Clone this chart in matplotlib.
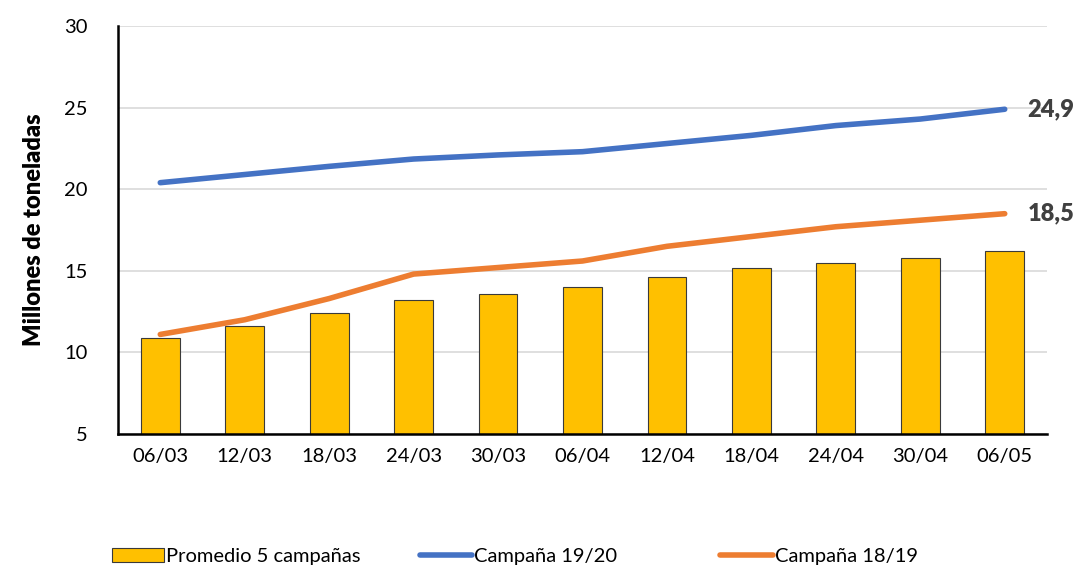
import matplotlib.pyplot as plt
import numpy as np

plt.rcParams['font.family'] = ['Lato', 'DejaVu Sans']

fechas = ["06/03", "12/03", "18/03", "24/03", "30/03", "06/04",
          "12/04", "18/04", "24/04", "30/04", "06/05"]
promedio = [10.9, 11.6, 12.4, 13.2, 13.6, 14.0, 14.6, 15.2, 15.5, 15.8, 16.2]
camp_1920 = [20.4, 20.9, 21.4, 21.85, 22.1, 22.3, 22.8, 23.3, 23.9, 24.3, 24.9]
camp_1819 = [11.1, 12.0, 13.3, 14.8, 15.2, 15.6, 16.5, 17.1, 17.7, 18.1, 18.5]

x = np.arange(len(fechas))

fig = plt.figure(figsize=(10.8, 5.72), dpi=100)
ax = fig.add_axes([0.1093, 0.2413, 0.8601, 0.7132])

bars = ax.bar(x, [p - 5 for p in promedio], bottom=5, width=0.46, color="#FFC000",
              edgecolor="#3a3a3a", linewidth=0.8, label="Promedio 5 campañas", zorder=2)
l1, = ax.plot(x, camp_1920, color="#4472C4", lw=4, solid_capstyle="round",
              label="Campaña 19/20", zorder=3)
l2, = ax.plot(x, camp_1819, color="#ED7D31", lw=4, solid_capstyle="round",
              label="Campaña 18/19", zorder=3)

ax.text(x[-1] + 0.27, camp_1920[-1], "24,9", fontsize=17, fontweight="heavy",
        color="#404040", va="center", ha="left")
ax.text(x[-1] + 0.27, camp_1819[-1], "18,5", fontsize=17, fontweight="heavy",
        color="#404040", va="center", ha="left")

ax.set_xlim(-0.5, 10.5)
ax.set_ylim(5, 30)
ax.set_yticks([5, 10, 15, 20, 25, 30])
ax.set_xticks(x)
ax.set_xticklabels(fechas)
ax.tick_params(length=0, labelsize=14.5, pad=10)
ax.tick_params(axis="y", pad=22)
ax.grid(axis="y", color="#d9d9d9", lw=1.2, zorder=0)
ax.set_axisbelow(True)
for s in ["top", "right"]:
    ax.spines[s].set_visible(False)
ax.spines["left"].set_linewidth(1.8)
ax.spines["bottom"].set_linewidth(1.8)
ax.set_ylabel("Millones de toneladas", fontsize=17, fontweight="heavy", labelpad=14)

for h, xpos in [(bars, 0.1037), (l1, 0.389), (l2, 0.667)]:
    fig.legend(handles=[h], loc="lower left", bbox_to_anchor=(xpos, 0.012),
               frameon=False, fontsize=14.5, handlelength=2.6,
               handletextpad=0.1, borderpad=0, borderaxespad=0)

fig.savefig("out.png", dpi=100)
